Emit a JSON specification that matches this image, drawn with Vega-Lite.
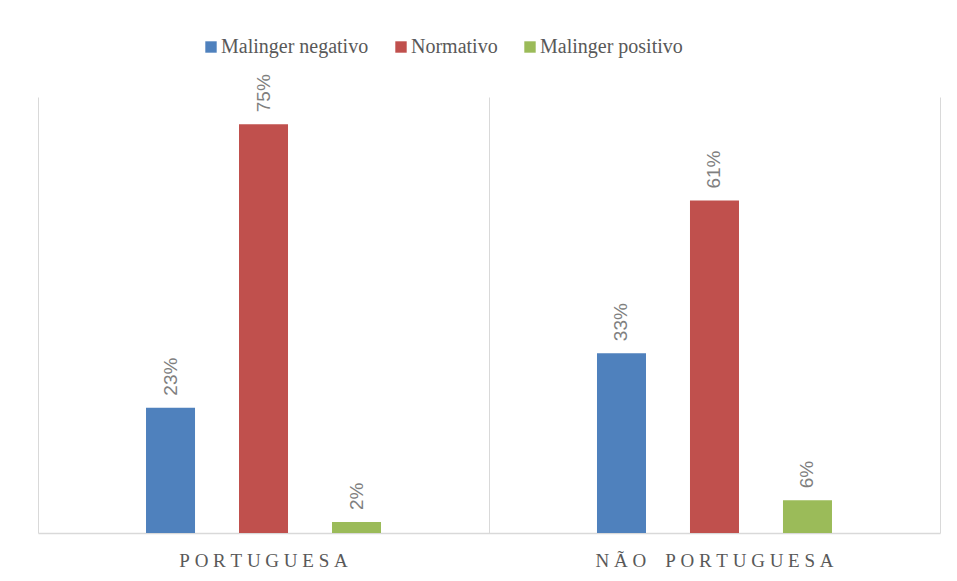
{
  "$schema": "https://vega.github.io/schema/vega-lite/v6.json",
  "width": 902,
  "height": 436,
  "autosize": {"type": "none"},
  "padding": {"left": 38, "top": 97, "right": 17, "bottom": 48},
  "background": "white",
  "config": {"view": {"stroke": null}},
  "data": {
    "values": [
      {"origem": "PORTUGUESA", "grupo": "Malinger negativo", "valor": 0.23},
      {"origem": "PORTUGUESA", "grupo": "Normativo", "valor": 0.75},
      {"origem": "PORTUGUESA", "grupo": "Malinger positivo", "valor": 0.02},
      {"origem": "NÃO PORTUGUESA", "grupo": "Malinger negativo", "valor": 0.33},
      {"origem": "NÃO PORTUGUESA", "grupo": "Normativo", "valor": 0.61},
      {"origem": "NÃO PORTUGUESA", "grupo": "Malinger positivo", "valor": 0.06}
    ]
  },
  "layer": [
    {
      "mark": {"type": "rule", "opacity": 0},
      "encoding": {
        "x": {
          "field": "origem",
          "type": "nominal",
          "sort": ["PORTUGUESA", "NÃO PORTUGUESA"],
          "scale": {"paddingInner": 0, "paddingOuter": 0},
          "axis": {
            "title": null,
            "orient": "bottom",
            "labels": false,
            "ticks": false,
            "domain": true,
            "domainColor": "#d9d9d9",
            "domainWidth": 1.5,
            "tickBand": "extent",
            "grid": true,
            "gridColor": "#d9d9d9",
            "gridWidth": 1
          }
        }
      }
    },
    {
      "encoding": {
        "x": {
          "field": "origem",
          "type": "nominal",
          "sort": ["PORTUGUESA", "NÃO PORTUGUESA"],
          "scale": {"paddingInner": 0.0665, "paddingOuter": 0.0333},
          "axis": {
            "title": null,
            "orient": "bottom",
            "labelAngle": 0,
            "labelLimit": 0,
            "labelExpr": "replace(join(split(datum.label, ''), '\u00a0'), ' ', '\u00a0\u00a0')",
            "labelFont": "Liberation Serif",
            "labelFontSize": 19,
            "labelColor": "#595959",
            "labelPadding": 18,
            "ticks": false,
            "grid": false,
            "domain": false
          }
        },
        "xOffset": {
          "field": "grupo",
          "type": "nominal",
          "sort": ["Malinger negativo", "Normativo", "Malinger positivo"],
          "scale": {"paddingInner": 0.473, "paddingOuter": 1}
        },
        "y": {
          "field": "valor",
          "type": "quantitative",
          "scale": {"domain": [0, 0.8], "nice": false},
          "axis": null
        }
      },
      "layer": [
        {
          "mark": {"type": "bar"},
          "encoding": {
            "color": {
              "field": "grupo",
              "type": "nominal",
              "sort": ["Malinger negativo", "Normativo", "Malinger positivo"],
              "scale": {
                "domain": ["Malinger negativo", "Normativo", "Malinger positivo"],
                "range": ["#4f81bd", "#c0504d", "#9bbb59"]
              },
              "legend": {
                "title": null,
                "orient": "none",
                "direction": "horizontal",
                "legendX": 163,
                "legendY": -60,
                "symbolType": "square",
                "symbolSize": 130,
                "symbolStrokeWidth": 0,
                "symbolOpacity": 1,
                "labelFont": "Liberation Serif",
                "labelFontSize": 20,
                "labelColor": "#595959",
                "labelOffset": 0,
                "columnPadding": 22
              }
            }
          }
        },
        {
          "mark": {
            "type": "text",
            "angle": 270,
            "align": "left",
            "baseline": "middle",
            "dx": 12,
            "font": "Liberation Sans",
            "fontSize": 19,
            "color": "#7f7f7f"
          },
          "encoding": {
            "text": {"field": "valor", "type": "quantitative", "format": ".0%"}
          }
        }
      ]
    }
  ],
  "resolve": {"scale": {"x": "independent"}, "axis": {"x": "independent"}}
}
